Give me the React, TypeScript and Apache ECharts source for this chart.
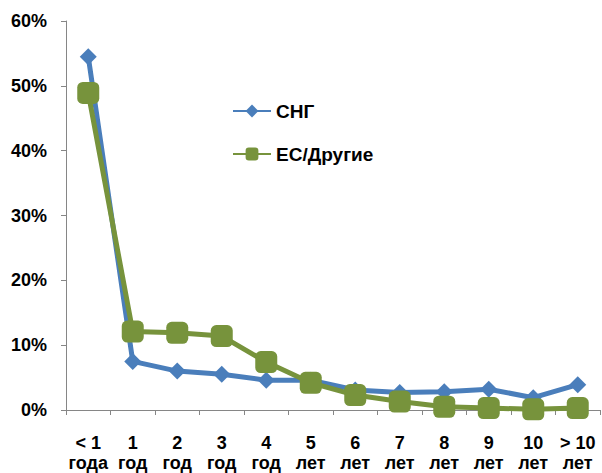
import React, { useEffect, useRef } from "react";
import * as echarts from "echarts";

const categories = ["< 1\nгода", "1\nгод", "2\nгод", "3\nгод", "4\nгод", "5\nлет", "6\nлет", "7\nлет", "8\nлет", "9\nлет", "10\nлет", "> 10\nлет"];
const cisValues = [54.5, 7.5, 6.0, 5.5, 4.6, 4.6, 3.1, 2.7, 2.8, 3.2, 1.9, 3.9];
const euValues = [48.9, 12.1, 11.9, 11.4, 7.4, 4.2, 2.3, 1.3, 0.5, 0.3, 0.1, 0.3];
const seriesNames = ["СНГ", "ЕС/Другие"];

const FONT = "'Liberation Sans', Arial, sans-serif";

export default function App() {
  const ref = useRef<HTMLDivElement>(null);
  useEffect(() => {
    if (!ref.current) return;
    document.body.style.margin = "0";
    document.body.style.overflow = "hidden";
    const chart = echarts.init(ref.current, null, { renderer: "svg" });
    chart.setOption({
      animation: false,
      backgroundColor: "#ffffff",
      grid: { left: 66, right: 2, top: 21, bottom: 63, containLabel: false, outerBoundsMode: "none" },
      legend: {
        orient: "vertical",
        left: 227,
        top: 96,
        itemWidth: 38,
        itemHeight: 16,
        itemGap: 23,
        textStyle: { fontFamily: FONT, fontWeight: "bold", fontSize: 19, lineHeight: 20, color: "#000" },
        data: seriesNames,
      },
      xAxis: {
        type: "category",
        data: categories,
        boundaryGap: true,
        axisLine: { lineStyle: { color: "#868686", width: 1 } },
        axisTick: { show: true, length: 5, lineStyle: { color: "#868686" } },
        axisLabel: {
          interval: 0,
          margin: 23,
          fontFamily: FONT,
          fontWeight: "bold",
          fontSize: 18,
          color: "#000",
          lineHeight: 20,
        },
      },
      yAxis: {
        type: "value",
        min: 0,
        max: 60,
        interval: 10,
        splitLine: { show: false },
        axisLine: { show: true, lineStyle: { color: "#868686", width: 1 } },
        axisTick: { show: true, length: 5, lineStyle: { color: "#868686" } },
        axisLabel: {
          margin: 19,
          fontFamily: FONT,
          fontWeight: "bold",
          fontSize: 18,
          color: "#000",
          formatter: (v: number) => v + "%",
        },
      },
      series: [
        {
          name: seriesNames[0],
          type: "line",
          data: cisValues,
          symbol: "diamond",
          symbolSize: 17,
          lineStyle: { color: "#4a7ebb", width: 5 },
          itemStyle: { color: "#4a7ebb" },
          z: 2,
        },
        {
          name: seriesNames[1],
          type: "line",
          data: euValues,
          symbol: "roundRect",
          symbolSize: 22,
          lineStyle: { color: "#77933c", width: 5 },
          itemStyle: { color: "#77933c" },
          z: 3,
        },
      ],
    });
    return () => chart.dispose();
  }, []);
  return <div ref={ref} style={{ position: "fixed", left: 0, top: 0, width: 602, height: 473 }} />;
}
